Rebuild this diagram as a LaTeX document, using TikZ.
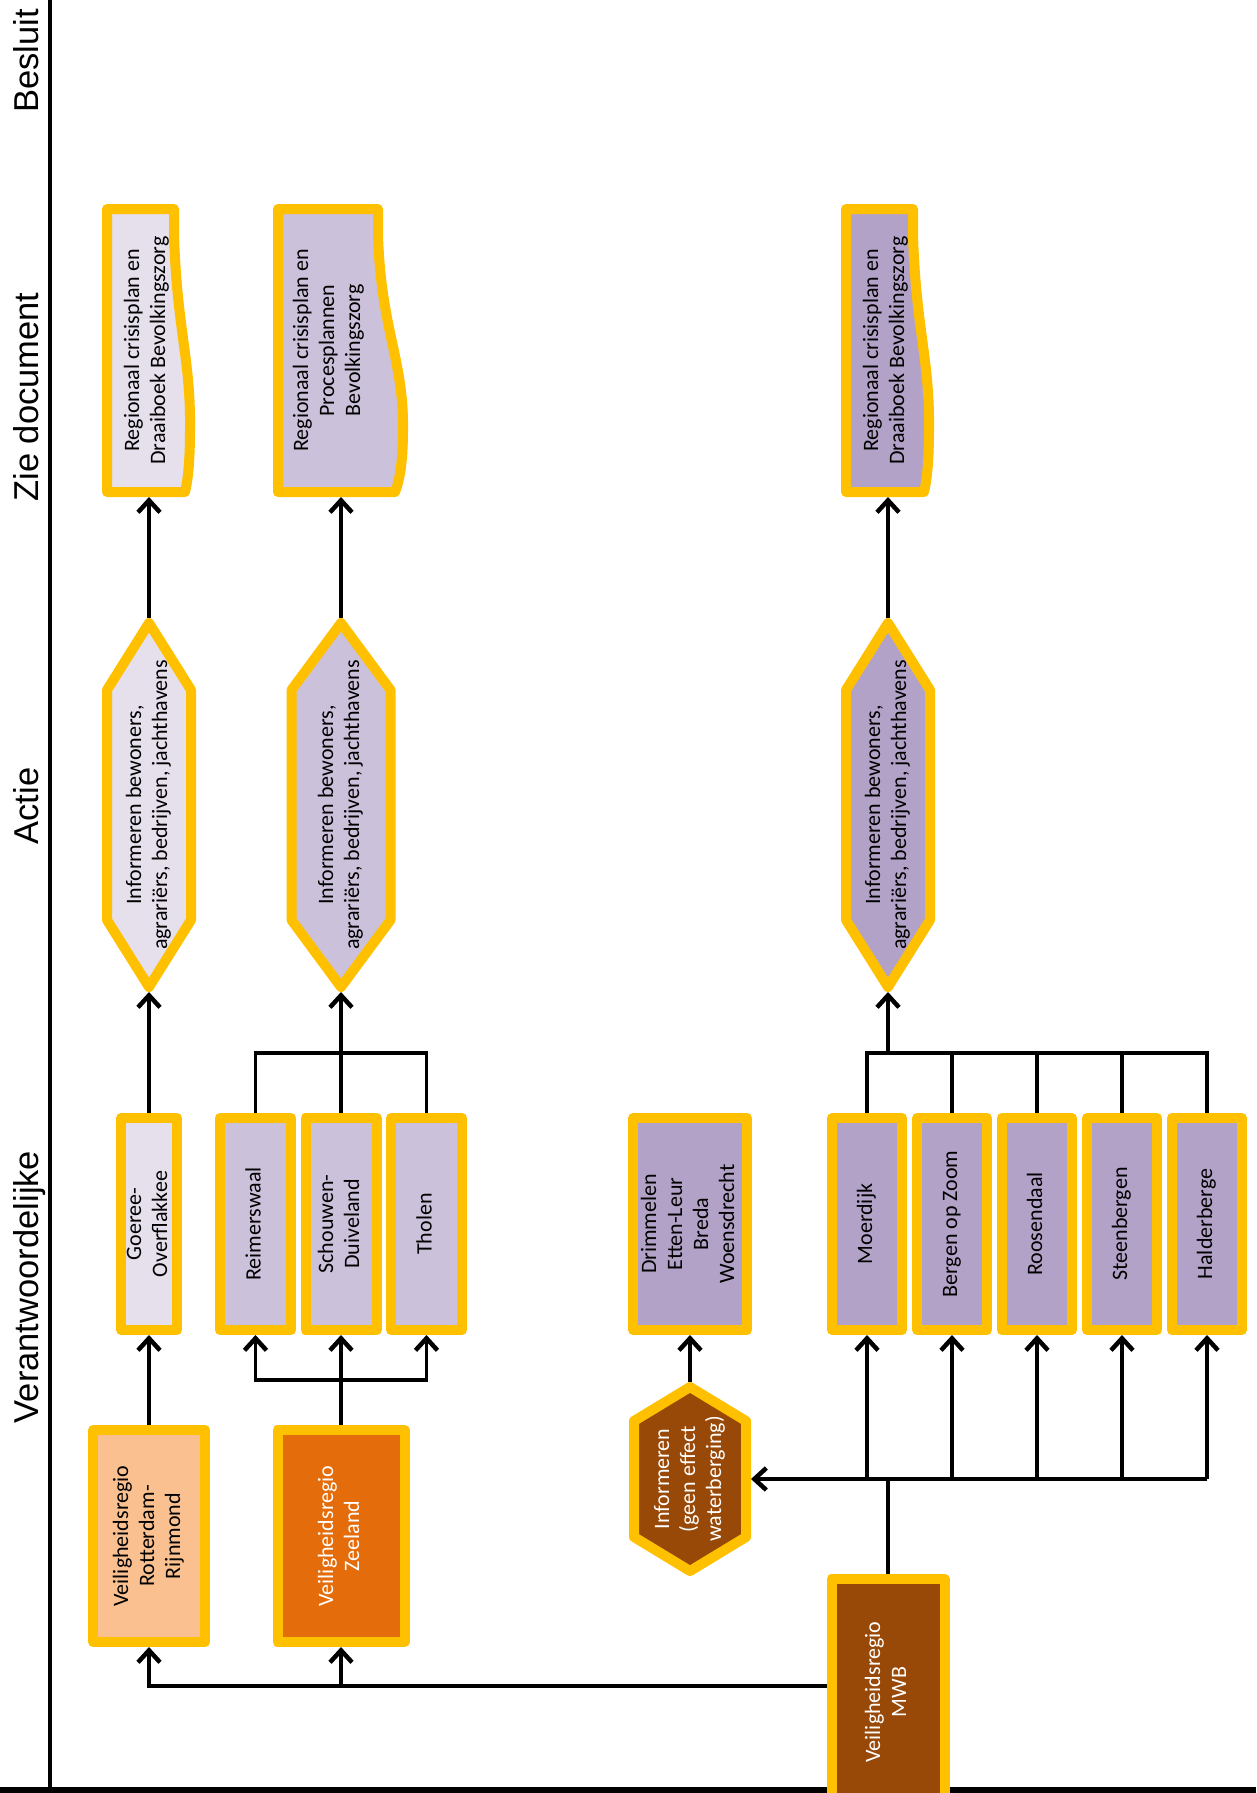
\documentclass[tikz,border=0pt]{standalone}
\usepackage{fontspec}
\setmainfont{Carlito}
\newfontfamily\axisfont{Liberation Sans}
\usepackage{graphicx}
\usetikzlibrary{arrows.meta,calc}
\definecolor{yel}{HTML}{FFC000}
\definecolor{lavA}{HTML}{E5E0EC}
\definecolor{lavB}{HTML}{CCC1DA}
\definecolor{lavC}{HTML}{B3A2C7}
\definecolor{peach}{HTML}{FAC090}
\definecolor{orng}{HTML}{E46C0A}
\definecolor{brwn}{HTML}{984807}
\newcommand\rt[1]{\rotatebox{90}{\begin{tabular}{@{}c@{}}#1\end{tabular}}}
\begin{document}
\begin{tikzpicture}[x=1pt,y=-1pt,
  box/.style={draw=yel, line width=10pt, line join=round, inner sep=0pt, font=\fontsize{22}{26}\selectfont},
  shp/.style={draw=yel, line width=10pt, line join=round},
  lbl/.style={inner sep=0pt, outer sep=0pt, font=\fontsize{22}{26}\selectfont},
  muni/.style={box, fill=lavC, minimum width=70pt, minimum height=212pt},
  zbox/.style={box, fill=lavB, minimum width=71pt, minimum height=212pt},
  axislbl/.style={rotate=90, anchor=base, inner sep=0pt, font=\axisfont\fontsize{34.5}{40}\selectfont},
  conn/.style={line width=3.2pt},
  arr/.style={line width=3.6pt, -{Straight Barb[length=12pt,width=22pt,line width=4.5pt]}}]
\useasboundingbox (0,0) rectangle (1256,1793);
\clip (0,0) rectangle (1256,1793);

% axes
\draw[line width=3.5pt] (50,0) -- (50,1793);
\draw[line width=6pt] (0,1790) -- (1256,1790);
\node[axislbl] (ax1) at (38,61) {Besluit};
\node[axislbl] (ax2) at (38,397) {Zie document};
\node[axislbl] (ax3) at (38,806) {Actie};
\node[axislbl] (ax4) at (38,1287) {Verantwoordelijke};

% document shapes
\draw[shp, fill=lavA] (107,209) -- (174,209) -- (174,235) .. controls (177,330) and (191,360) .. (190,430) .. controls (190,460) and (188,480) .. (185,492) -- (107,492) -- cycle;
\draw[shp, fill=lavB] (278,209) -- (378,209) -- (378,235) .. controls (381,330) and (404,360) .. (403,430) .. controls (403,460) and (400,480) .. (395,492) -- (278,492) -- cycle;
\draw[shp, fill=lavC] (846,209) -- (913,209) -- (913,235) .. controls (916,330) and (930,360) .. (929,430) .. controls (929,460) and (927,480) .. (924,492) -- (846,492) -- cycle;
\node[lbl, minimum width=80pt, minimum height=293pt] (doc1) at (147,350.5) {\rt{Regionaal crisisplan en\\Draaiboek Bevolkingszorg}};
\node[lbl, minimum width=90pt, minimum height=293pt] (doc2) at (329,350.5) {\rt{Regionaal crisisplan en\\Procesplannen\\Bevolkingszorg}};
\node[lbl, minimum width=80pt, minimum height=293pt] (doc3) at (886,350.5) {\rt{Regionaal crisisplan en\\Draaiboek Bevolkingszorg}};

% hexagons
\draw[shp, fill=lavA] (149,623) -- (191,690) -- (191,920) -- (149,987) -- (107,920) -- (107,690) -- cycle;
\draw[shp, fill=lavB] (341,623) -- (390.5,690) -- (390.5,920) -- (341,987) -- (291.5,920) -- (291.5,690) -- cycle;
\draw[shp, fill=lavC] (888,623) -- (930,690) -- (930,920) -- (888,987) -- (846,920) -- (846,690) -- cycle;
\draw[shp, fill=brwn] (690,1387) -- (746,1421) -- (746,1537) -- (690,1571) -- (634,1537) -- (634,1421) -- cycle;
\node[lbl, minimum width=94pt, minimum height=374pt] (hex1) at (149,805) {\rt{Informeren bewoners,\\agrariërs, bedrijven, jachthavens}};
\node[lbl, minimum width=109pt, minimum height=374pt] (hex2) at (341,805) {\rt{Informeren bewoners,\\agrariërs, bedrijven, jachthavens}};
\node[lbl, minimum width=94pt, minimum height=374pt] (hex3) at (888,805) {\rt{Informeren bewoners,\\agrariërs, bedrijven, jachthavens}};
\node[lbl, text=white, minimum width=122pt, minimum height=194pt] (hexI) at (690,1479) {\rt{Informeren\\(geen effect\\waterberging)}};

% boxes row 1
\node[box, fill=lavA, minimum width=56pt, minimum height=212pt] (goeree) at (149,1224) {\rt{Goeree-\\Overflakkee}};
\node[zbox] (reim) at (255.5,1224) {\rt{Reimerswaal}};
\node[zbox] (schouwen) at (341,1224) {\rt{Schouwen-\\Duiveland}};
\node[zbox] (tholen) at (426.5,1224) {\rt{Tholen}};
\node[box, fill=lavC, minimum width=114pt, minimum height=212pt] (drim) at (690,1224) {\rt{Drimmelen\\Etten-Leur\\Breda\\Woensdrecht}};
\node[muni] (moer) at (867,1224) {\rt{Moerdijk}};
\node[muni] (berg) at (952,1224) {\rt{Bergen op Zoom}};
\node[muni] (roos) at (1037,1224) {\rt{Roosendaal}};
\node[muni] (steen) at (1122,1224) {\rt{Steenbergen}};
\node[muni] (hald) at (1207,1224) {\rt{Halderberge}};

% regions
\node[box, fill=peach, minimum width=112pt, minimum height=212pt] (rott) at (149,1536) {\rt{Veiligheidsregio\\Rotterdam-\\Rijnmond}};
\node[box, fill=orng, text=white, minimum width=127pt, minimum height=212pt] (zeel) at (341,1536) {\rt{Veiligheidsregio\\Zeeland}};
\node[box, fill=brwn, text=white, minimum width=113pt, minimum height=226pt] (mwb) at (888,1692) {\rt{Veiligheidsregio\\MWB}};

% bus levels
\coordinate (zup) at (0,1053);
\coordinate (zlow) at (0,1380);
\coordinate (mbus) at (0,1479);
\coordinate (mlow) at (0,1686);

% connectors column 1
\draw[arr] (hex1.north) -- (hex1.north |- doc1.south);
\draw[arr] (goeree.north) -- (hex1.south);
\draw[arr] (rott.north) -- (goeree.south);

% Zeeland
\draw[arr] (hex2.north) -- (hex2.north |- doc2.south);
\draw[arr] (zeel.north) -- (schouwen.south);
\draw[arr] (zeel.north |- zlow) -| (reim.south);
\draw[arr] (zeel.north |- zlow) -| (tholen.south);
\draw[arr] (schouwen.north) -- (hex2.south);
\draw[conn] (reim.north) |- (tholen.north |- zup) -- (tholen.north);

% MWB
\draw[arr] (hex3.north) -- (hex3.north |- doc3.south);
\draw[arr] (mwb.west |- mlow) -| (rott.south);
\draw[arr] (zeel.south |- mlow) -- (zeel.south);
\draw[conn] (mwb.north) -- (mwb.north |- mbus);
\draw[arr] (hald.south |- mbus) -- (hexI.east |- mbus);
\foreach \m in {moer,berg,roos,steen,hald}{
  \draw[arr] (\m.south |- mbus) -- (\m.south);
}
\draw[arr] (hexI.north) -- (drim.south);
\draw[conn] (moer.north) |- (hald.north |- zup) -- (hald.north);
\foreach \m in {berg,roos,steen}{
  \draw[conn] (\m.north) -- (\m.north |- zup);
}
\draw[arr] (hex3.south |- zup) -- (hex3.south);
\end{tikzpicture}
\end{document}
